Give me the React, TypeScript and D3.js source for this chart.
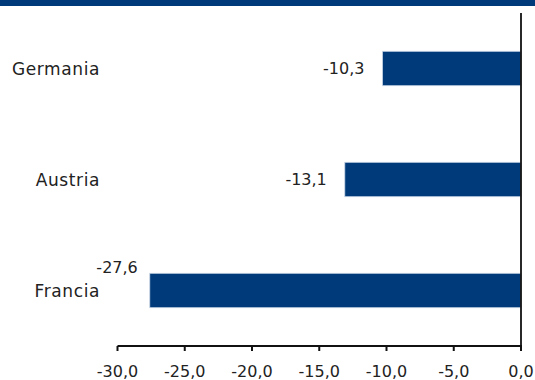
import React from "react";
import * as d3 from "d3";

const categories = ["Germania", "Austria", "Francia"];
const values = [-10.3, -13.1, -27.6];
const tickValues = [-30, -25, -20, -15, -10, -5, 0];

const W = 535;
const H = 380;
const NAVY = "#003A7A";
const fmt = (v: number) => v.toFixed(1).replace(".", ",");

export default function App() {
  const x = d3.scaleLinear().domain([-30, 0]).range([117.5, 521]);
  const y = d3.scaleBand<string>().domain(categories).range([13, 346]).paddingInner(0.69).paddingOuter(0.345);
  const font = "'DejaVu Sans', sans-serif";
  return (
    <svg width={W} height={H} style={{ position: "absolute", left: 0, top: 0, background: "#fff" }} fontFamily={font}>
      <rect x={0} y={0} width={W} height={6} fill={NAVY} />
      {categories.map((c, i) => {
        const v = values[i];
        const x0 = x(v);
        const yb = y(c)!;
        const bh = y.bandwidth();
        const outside = x0 - 18 - 42 < x(-30);
        return (
          <g key={c}>
            <rect x={x0} y={yb} width={x(0) - x0} height={bh} fill={NAVY} stroke="#c9d5e6" strokeWidth={0.8} />
            <text
              x={outside ? x0 - 12 : x0 - 18}
              y={outside ? yb - 0.5 : yb + bh / 2}
              dy={outside ? "0" : "0.36em"}
              textAnchor="end"
              fontSize={16}
              fill="#222"
            >
              {fmt(v)}
            </text>
            <text x={100} y={yb + bh / 2} dy="0.36em" textAnchor="end" fontSize={17} letterSpacing={0.6} fill="#222">
              {c}
            </text>
          </g>
        );
      })}
      <line x1={x(0)} x2={x(0)} y1={13} y2={346} stroke="#111" strokeWidth={1.8} />
      <line x1={x(-30)} x2={x(0) + 1} y1={346} y2={346} stroke="#111" strokeWidth={2} />
      {tickValues.map((t) => (
        <g key={t}>
          <line x1={x(t)} x2={x(t)} y1={346} y2={351} stroke="#111" strokeWidth={2} />
          <text x={x(t)} y={376.5} textAnchor="middle" fontSize={16} fill="#222">
            {fmt(t)}
          </text>
        </g>
      ))}
    </svg>
  );
}
